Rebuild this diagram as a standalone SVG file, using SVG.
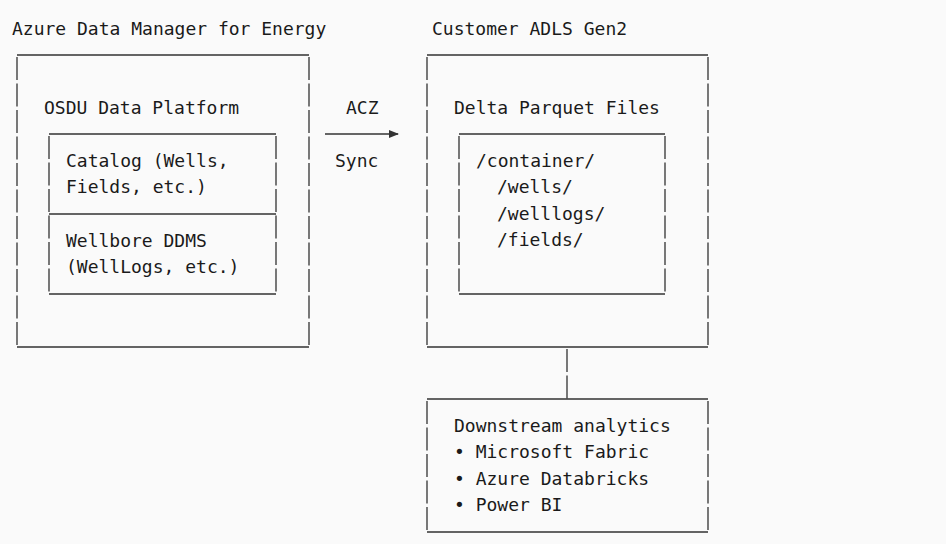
<svg xmlns="http://www.w3.org/2000/svg" width="946" height="544" viewBox="0 0 946 544">
<style>
text{font-family:"DejaVu Sans Mono","Liberation Mono",monospace;font-size:18px;fill:#1a1a1a}
.h{stroke:#333;stroke-width:1.3;fill:none}
.v{stroke:#333;stroke-width:1.3;fill:none;stroke-dasharray:23 3.5;stroke-dashoffset:-2}
</style>
<defs><marker id="ah" markerWidth="10" markerHeight="8" refX="9" refY="4" orient="auto" markerUnits="userSpaceOnUse"><path d="M0,0 L10,4 L0,8 z" fill="#333"/></marker></defs>
<rect width="946" height="544" fill="#fafafa"/>
<text x="12" y="35">Azure Data Manager for Energy</text>
<text x="432" y="35">Customer ADLS Gen2</text>
<g id="adme">
<path class="h" d="M17,55H309M17,347H309"/>
<path class="v" d="M17,55V347M309,55V347"/>
<text x="44" y="114">OSDU Data Platform</text>
</g>
<g id="osdu-inner">
<path class="h" d="M49,134H276M49,214H276M49,294H276"/>
<path class="v" d="M49,134V294M276,134V294"/>
<text x="66" y="167">Catalog (Wells,</text>
<text x="66" y="193">Fields, etc.)</text>
<text x="66" y="247">Wellbore DDMS</text>
<text x="66" y="273">(WellLogs, etc.)</text>
</g>
<g id="adls">
<path class="h" d="M427,55H708M427,347H708"/>
<path class="v" d="M427,55V347M708,55V347"/>
<text x="454" y="114">Delta Parquet Files</text>
</g>
<g id="files">
<path class="h" d="M459,134H665M459,294H665"/>
<path class="v" d="M459,134V294M665,134V294"/>
<text x="476" y="167">/container/</text>
<text x="497" y="193">/wells/</text>
<text x="497" y="220">/welllogs/</text>
<text x="497" y="246">/fields/</text>
</g>
<g id="downstream">
<path class="h" d="M427,399H708M427,532H708"/>
<path class="v" d="M427,399V532M708,399V532"/>
<text x="454" y="432">Downstream analytics</text>
<text x="454" y="458">• Microsoft Fabric</text>
<text x="454" y="485">• Azure Databricks</text>
<text x="454" y="511">• Power BI</text>
</g>
<g id="connectors">
<path class="h" d="M325,134H398" marker-end="url(#ah)"/>
<text x="346" y="114">ACZ</text>
<text x="335" y="167">Sync</text>
<path class="v" d="M567,347V399"/>
</g>
</svg>
